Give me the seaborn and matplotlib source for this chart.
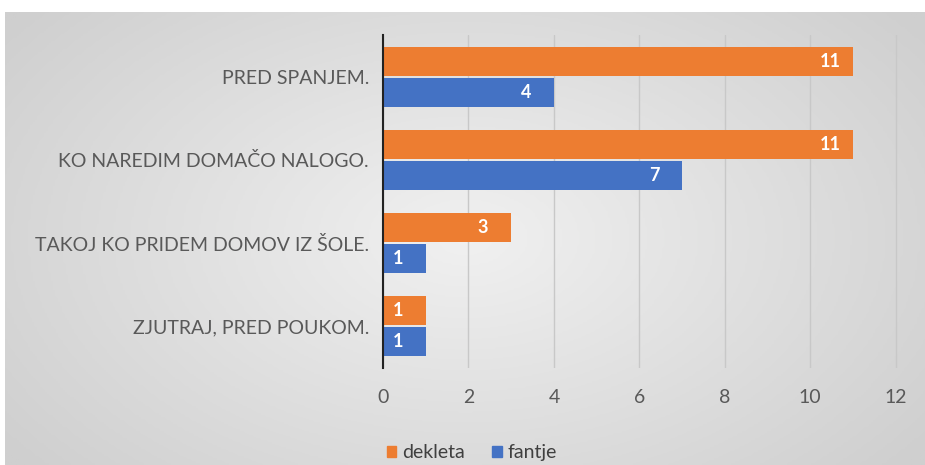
import numpy as np
import pandas as pd
import seaborn as sns
import matplotlib.pyplot as plt
from matplotlib.patches import Patch

# data
categories = ['PRED SPANJEM.', 'KO NAREDIM DOMAČO NALOGO.',
              'TAKOJ KO PRIDEM DOMOV IZ ŠOLE.', 'ZJUTRAJ, PRED POUKOM.']
dekleta = [11, 11, 3, 1]
fantje = [4, 7, 1, 1]
series = ['dekleta', 'fantje']
colors = {'dekleta': '#ED7D31', 'fantje': '#4472C4'}
xticks = [0, 2, 4, 6, 8, 10, 12]

df = pd.DataFrame({
    'kategorija': categories * 2,
    'skupina': ['dekleta'] * 4 + ['fantje'] * 4,
    'vrednost': dekleta + fantje,
})

sns.set_style('white')
plt.rcParams['font.family'] = ['Lato', 'DejaVu Sans']

fig = plt.figure(figsize=(9.25, 4.65), dpi=100)

# soft radial gradient background like the office chart area
bg = fig.add_axes([0.005, 0, 0.995, 1 - 12 / 465], zorder=-10)
yy, xx = np.mgrid[-1:1:200j, -1:1:400j]
r = np.sqrt(xx ** 2 + (yy * 0.8) ** 2)
bg.imshow(r, cmap=sns.light_palette('#cfcfcf', as_cmap=True),
          vmin=0.0, vmax=1.25, aspect='auto', extent=[0, 1, 0, 1])
bg.axis('off')

ax = fig.add_axes([383 / 925, 1 - 368 / 465, (900 - 383) / 925, (368 - 35) / 465])
ax.patch.set_alpha(0)
sns.barplot(data=df, y='kategorija', x='vrednost', hue='skupina',
            palette=colors, order=categories, hue_order=series,
            width=0.74, gap=0.06, orient='h', ax=ax, legend=False,
            saturation=1, linewidth=0)

for cont in ax.containers:
    ax.bar_label(cont, padding=-24, color='white', fontsize=13,
                 fontweight='bold')

ax.set_xlim(0, 12.1)
ax.set_xticks(xticks)
ax.set_ylim(3.5, -0.5)
ax.set_xlabel('')
ax.set_ylabel('')
ax.xaxis.grid(True, color='#c8c8c8', linewidth=1)
ax.set_axisbelow(True)
for s in ['top', 'right', 'bottom']:
    ax.spines[s].set_visible(False)
ax.spines['left'].set_color('#222222')
ax.spines['left'].set_linewidth(1.5)
ax.tick_params(axis='x', length=0, pad=15, labelsize=14, labelcolor='#595959')
ax.tick_params(axis='y', length=0, pad=10, labelsize=14, labelcolor='#595959')

handles = [Patch(color=colors[s], label=s) for s in series]
fig.legend(handles=handles, loc='lower center', bbox_to_anchor=(0.51, -0.03),
           ncol=2, frameon=False, fontsize=14, labelcolor='#404040',
           handlelength=0.5, handleheight=0.5, handletextpad=0.3,
           columnspacing=1.4)

fig.savefig('out.png', dpi=100)
